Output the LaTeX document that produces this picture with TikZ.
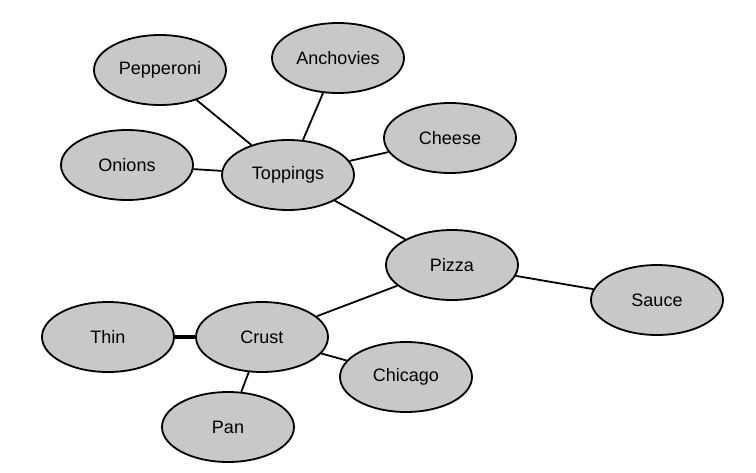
\documentclass[tikz,border=0pt]{standalone}
\usepackage{fontspec}
\setmainfont{Liberation Sans}
\usepackage{tikz}
\usetikzlibrary{shapes.geometric}
\definecolor{nodegray}{RGB}{200,200,200}
\tikzset{
    topic/.style={ellipse, draw, line width=1.8pt, fill=nodegray, minimum width=132pt, minimum height=70pt, inner sep=0pt, font=\fontsize{18}{20}\selectfont},
    link/.style={line width=1.8pt}
}
\begin{document}
\begin{tikzpicture}[x=1pt,y=-1pt]
        \useasboundingbox (0,0) rectangle (756,472);

        \node[topic] (pizza) at (452,265) {Pizza};
        \node[topic] (toppings) at (288,175) {Toppings};
        \node[topic] (crust) at (262,337) {Crust};
        \node[topic] (sauce) at (657,300) {Sauce};
        \node[topic] (pepperoni) at (160,70) {Pepperoni};
        \node[topic] (anchovies) at (338,58) {Anchovies};
        \node[topic] (cheese) at (450,138) {Cheese};
        \node[topic] (onions) at (127,165) {Onions};
        \node[topic] (thin) at (108,337) {Thin};
        \node[topic] (chicago) at (406,377) {Chicago};
        \node[topic] (pan) at (228,427) {Pan};

        \draw[link] (pizza) -- (toppings);
        \draw[link] (pizza) -- (crust);
        \draw[link] (pizza) -- (sauce);
        \draw[link] (toppings) -- (pepperoni);
        \draw[link] (toppings) -- (anchovies);
        \draw[link] (toppings) -- (cheese);
        \draw[link] (toppings) -- (onions);
        \draw[line width=4pt] (crust) -- (thin);
        \draw[link] (crust) -- (chicago);
        \draw[link] (crust) -- (pan);
    \end{tikzpicture}
\end{document}
